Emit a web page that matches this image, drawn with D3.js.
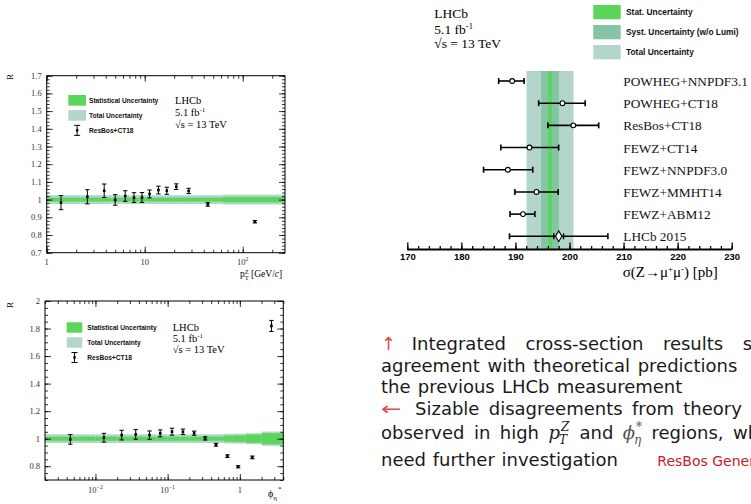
<!DOCTYPE html>
<html>
<head>
<meta charset="utf-8">
<script src="https://cdn.jsdelivr.net/npm/d3@7"></script>
<style>
  body { margin: 0; background: #fff; }
  svg { display: block; }
</style>
</head>
<body>
<svg id="slide" width="751" height="504"></svg>
<script>
// ---------- data: ratio to ResBos+CT18 vs pT(Z) ----------
const ptBinEdges = [1, 2.2, 3.4, 4.6, 5.8, 7.2, 8.7, 10.5, 12.8, 15.4, 19, 24.5, 34, 63, 270];
const ptStatErr  = [0.011, 0.011, 0.011, 0.011, 0.011, 0.011, 0.011, 0.011, 0.011, 0.011, 0.011, 0.011, 0.011, 0.015];
const ptTotalErr = [0.025, 0.025, 0.025, 0.025, 0.025, 0.025, 0.025, 0.025, 0.025, 0.025, 0.025, 0.025, 0.025, 0.028];
const ptPoints   = [1.40, 2.6, 3.86, 5.0, 6.33, 7.77, 9.38, 11.2, 13.8, 16.8, 21.0, 28.1, 44, 133];
const ptRatio    = [0.983, 1.016, 1.050, 0.998, 1.020, 1.011, 1.012, 1.032, 1.054, 1.050, 1.073, 1.049, 0.973, 0.875];
const ptRatioErr = [0.040, 0.040, 0.038, 0.030, 0.030, 0.028, 0.028, 0.022, 0.022, 0.020, 0.016, 0.015, 0.010, 0.007];
const ptYTicks   = [0.7, 0.8, 0.9, 1.0, 1.1, 1.2, 1.3, 1.4, 1.5, 1.6, 1.7];
const ptXTicks   = [1, 10, 100];
const ptXLabels  = ["1", "10", "10^2"];

// ---------- data: ratio to ResBos+CT18 vs phi*_eta ----------
const phiBinEdges = [0.002, 0.01, 0.02, 0.03, 0.05, 0.07, 0.1, 0.15, 0.2, 0.3, 0.4, 0.6, 0.8, 1.2, 2, 4];
const phiStatErr  = [0.015, 0.015, 0.015, 0.015, 0.015, 0.015, 0.015, 0.015, 0.015, 0.015, 0.015, 0.022, 0.024, 0.030, 0.040];
const phiTotalErr = [0.032, 0.032, 0.032, 0.032, 0.032, 0.032, 0.032, 0.032, 0.032, 0.032, 0.032, 0.035, 0.036, 0.040, 0.052];
const phiPoints   = [0.00448, 0.0131, 0.0231, 0.0361, 0.0561, 0.0789, 0.1148, 0.163, 0.233, 0.331, 0.467, 0.673, 0.948, 1.49, 2.74];
const phiRatio    = [0.995, 1.007, 1.026, 1.031, 1.026, 1.039, 1.051, 1.050, 1.040, 1.002, 0.956, 0.873, 0.796, 0.864, 1.819];
const phiRatioErr = [0.035, 0.032, 0.035, 0.035, 0.030, 0.025, 0.025, 0.020, 0.015, 0.012, 0.010, 0.010, 0.008, 0.010, 0.040];
const phiYTicks   = [0.8, 1.0, 1.2, 1.4, 1.6, 1.8, 2.0];
const phiXTicks   = [0.01, 0.1, 1];
const phiXLabels  = ["10^-2", "10^-1", "1"];

// ---------- data: integrated cross-section sigma(Z->mumu) [pb] ----------
const models      = ["POWHEG+NNPDF3.1", "POWHEG+CT18", "ResBos+CT18", "FEWZ+CT14",
                     "FEWZ+NNPDF3.0", "FEWZ+MMHT14", "FEWZ+ABM12", "LHCb 2015"];
const modelValue  = [189.4, 198.7, 200.7, 192.6, 188.6, 193.9, 191.4, 198.0];
const modelLow    = [186.9, 194.3, 196.0, 187.3, 184.1, 189.9, 189.0, 188.9];
const modelHigh   = [191.6, 202.9, 205.4, 198.0, 193.2, 197.9, 193.6, 207.1];
const lhcb2015Stat = [197.1, 198.9];
const sigmaCentral = 196.4;
const sigmaStatErr = 0.35;
const sigmaSystErr = 1.65;
const sigmaTotalErr = 4.35;
const sigmaTicks   = [170, 180, 190, 200, 210, 220, 230];

const STAT_COL  = "#5bd65b";
const SYST_COL  = "#86c4a6";
const TOTAL_COL = "#b3d5ca";

const svg = d3.select("#slide");
svg.append("rect").attr("width", 751).attr("height", 504).attr("fill", "#fff");

const SERIF = "'Liberation Serif', 'DejaVu Serif', serif";
const SANS  = "'Liberation Sans', Arial, sans-serif";

// writes "10^2" style labels with a raised exponent
function powLabel(sel, s, size) {
  const parts = s.split("^");
  sel.text(null);
  sel.append("tspan").text(parts[0]);
  if (parts.length > 1) {
    sel.append("tspan").attr("dy", -size * 0.45).attr("font-size", size * 0.7).text(parts[1].replace("-", "\u2212"));
  }
}

function logMinor(domain) {
  const out = [];
  const lo = Math.floor(Math.log10(domain[0])), hi = Math.ceil(Math.log10(domain[1]));
  for (let e = lo; e <= hi; e++) {
    for (let k = 1; k <= 9; k++) {
      const v = k * Math.pow(10, e);
      if (v >= domain[0] * 0.9999 && v <= domain[1] * 1.0001) out.push(+v.toPrecision(6));
    }
  }
  return out;
}

function ratioPanel(cfg) {
  const g = svg.append("g");
  const x = d3.scaleLog().domain(cfg.xDomain).range([cfg.left, cfg.right]);
  const y = d3.scaleLinear().domain(cfg.yDomain).range([cfg.bottom, cfg.top]);

  const bins = d3.range(cfg.edges.length - 1).map(i => ({
    x0: cfg.edges[i], x1: cfg.edges[i + 1], s: cfg.stat[i], t: cfg.total[i]
  }));
  g.selectAll("rect.tot").data(bins).join("rect")
    .attr("x", d => x(d.x0)).attr("width", d => x(d.x1) - x(d.x0))
    .attr("y", d => y(1 + d.t)).attr("height", d => y(1 - d.t) - y(1 + d.t))
    .attr("fill", TOTAL_COL);
  g.selectAll("rect.stat").data(bins).join("rect")
    .attr("x", d => x(d.x0)).attr("width", d => x(d.x1) - x(d.x0))
    .attr("y", d => y(1 + d.s)).attr("height", d => y(1 - d.s) - y(1 + d.s))
    .attr("fill", STAT_COL);

  // ticks on all four sides, pointing inwards
  const minorX = logMinor(cfg.xDomain);
  const minorY = d3.range(cfg.yDomain[0], cfg.yDomain[1] + 1e-9, cfg.yMinorStep);
  const majorX = cfg.xTicks;
  [d3.axisBottom(x), d3.axisTop(x)].forEach((ax, i) => {
    const tr = "translate(0," + (i === 0 ? cfg.bottom : cfg.top) + ")";
    g.append("g").attr("transform", tr)
      .call(ax.tickValues(minorX).tickSize(-3).tickFormat(""))
      .call(s => s.select(".domain").remove());
    g.append("g").attr("transform", tr)
      .call(ax.tickValues(majorX).tickSize(-6).tickFormat(""))
      .call(s => s.select(".domain").remove());
  });
  [[d3.axisLeft(y), cfg.left], [d3.axisRight(y), cfg.right]].forEach(([ax, px]) => {
    const tr = "translate(" + px + ",0)";
    g.append("g").attr("transform", tr)
      .call(ax.tickValues(minorY).tickSize(-3).tickFormat(""))
      .call(s => s.select(".domain").remove());
    g.append("g").attr("transform", tr)
      .call(ax.tickValues(cfg.yTicks).tickSize(-6).tickFormat(""))
      .call(s => s.select(".domain").remove());
  });
  g.selectAll(".tick line").attr("stroke", "#000").attr("stroke-width", 0.8);

  g.append("rect").attr("x", cfg.left).attr("y", cfg.top)
    .attr("width", cfg.right - cfg.left).attr("height", cfg.bottom - cfg.top)
    .attr("fill", "none").attr("stroke", "#000").attr("stroke-width", 1);

  // tick labels
  g.selectAll("text.yl").data(cfg.yTicks).join("text")
    .attr("x", cfg.left - 5).attr("y", d => y(d) + 3)
    .attr("text-anchor", "end").attr("font-family", SERIF).attr("font-size", 8.5).attr("fill", "#333")
    .text(d => d3.format("~g")(d));
  g.selectAll("text.xl").data(majorX).join("text")
    .attr("x", d => x(d)).attr("y", cfg.bottom + 12.5)
    .attr("text-anchor", "middle").attr("font-family", SERIF).attr("font-size", 8.5).attr("fill", "#333")
    .each(function (d, i) { powLabel(d3.select(this), cfg.xLabels[i], 8.5); });

  // data points with error bars
  const pts = cfg.px.map((v, i) => ({ x: v, y: cfg.py[i], e: cfg.pe[i] }));
  const pg = g.selectAll("g.pt").data(pts).join("g");
  pg.append("line").attr("x1", d => x(d.x)).attr("x2", d => x(d.x))
    .attr("y1", d => y(d.y - d.e)).attr("y2", d => y(d.y + d.e)).attr("stroke", "#000").attr("stroke-width", 1);
  [-1, 1].forEach(sgn => {
    pg.append("line").attr("x1", d => x(d.x) - 2.2).attr("x2", d => x(d.x) + 2.2)
      .attr("y1", d => y(d.y + sgn * d.e)).attr("y2", d => y(d.y + sgn * d.e))
      .attr("stroke", "#000").attr("stroke-width", 1);
  });
  pg.append("rect").attr("x", d => x(d.x) - 1.3).attr("y", d => y(d.y) - 1.3)
    .attr("width", 2.6).attr("height", 2.6).attr("fill", "#000");

  // legend
  const L = cfg.legend;
  g.append("rect").attr("x", L.x).attr("y", L.y).attr("width", L.w).attr("height", L.h).attr("fill", STAT_COL);
  g.append("rect").attr("x", L.x).attr("y", L.y + L.dy).attr("width", L.w).attr("height", L.h).attr("fill", TOTAL_COL);
  const ex = L.x + L.w / 2, ey = L.y + 2 * L.dy + L.h / 2;
  g.append("line").attr("x1", ex).attr("x2", ex).attr("y1", ey - 5).attr("y2", ey + 5).attr("stroke", "#000");
  g.append("line").attr("x1", ex - 3).attr("x2", ex + 3).attr("y1", ey - 5).attr("y2", ey - 5).attr("stroke", "#000");
  g.append("line").attr("x1", ex - 3).attr("x2", ex + 3).attr("y1", ey + 5).attr("y2", ey + 5).attr("stroke", "#000");
  g.append("rect").attr("x", ex - 1.2).attr("y", ey - 1.2).attr("width", 2.4).attr("height", 2.4).attr("fill", "#000");
  ["Statistical Uncertainty", "Total Uncertainty", "ResBos+CT18"].forEach((t, i) => {
    g.append("text").attr("x", L.tx).attr("y", L.y + i * L.dy + L.h / 2 + 2.3)
      .attr("font-family", SANS).attr("font-weight", "bold").attr("font-size", 6.6).attr("fill", "#111").text(t);
  });

  // experiment label
  const T = cfg.tag;
  g.append("text").attr("x", T.x).attr("y", T.y[0]).attr("font-family", SERIF).attr("font-size", 10.5).text("LHCb");
  const l2 = g.append("text").attr("x", T.x).attr("y", T.y[1]).attr("font-family", SERIF).attr("font-size", 10.5);
  l2.append("tspan").text("5.1 fb");
  l2.append("tspan").attr("dy", -4).attr("font-size", 7).text("-1");
  g.append("text").attr("x", T.x).attr("y", T.y[2]).attr("font-family", SERIF).attr("font-size", 10.5).text("\u221As = 13 TeV");

  // y title
  g.append("text").attr("transform", "translate(13," + cfg.yTitleY + ") rotate(-90)")
    .attr("text-anchor", "middle").attr("font-family", SERIF).attr("font-size", 9).text("R");
  return { g, x, y };
}

// ---- pT(Z) panel ----
const pA = ratioPanel({
  left: 46.7, right: 285, top: 75.7, bottom: 252.7,
  xDomain: [1, 270], yDomain: [0.7, 1.7], yMinorStep: 0.02,
  edges: ptBinEdges, stat: ptStatErr, total: ptTotalErr,
  px: ptPoints, py: ptRatio, pe: ptRatioErr,
  yTicks: ptYTicks, xTicks: ptXTicks, xLabels: ptXLabels,
  legend: { x: 68.3, y: 95, w: 17.7, h: 10.7, dy: 15, tx: 89 },
  tag: { x: 175, y: [104.3, 116, 127.7] },
  yTitleY: 77
});
{
  const t = pA.g.append("text").attr("x", 240).attr("y", 277).attr("font-family", SERIF).attr("font-size", 9.5);
  t.append("tspan").text("p");
  t.append("tspan").attr("dy", -3.5).attr("font-size", 6.5).text("Z");
  t.append("tspan").attr("dx", -4).attr("dy", 6.5).attr("font-size", 6.5).text("T");
  t.append("tspan").attr("dy", -3).text(" [GeV/");
  t.append("tspan").attr("font-style", "italic").text("c");
  t.append("tspan").text("]");
}

// ---- phi*_eta panel ----
const pB = ratioPanel({
  left: 45, right: 283.3, top: 301, bottom: 480,
  xDomain: [0.002, 4], yDomain: [0.7, 2.0], yMinorStep: 0.05,
  edges: phiBinEdges, stat: phiStatErr, total: phiTotalErr,
  px: phiPoints, py: phiRatio, pe: phiRatioErr,
  yTicks: phiYTicks, xTicks: phiXTicks, xLabels: phiXLabels,
  legend: { x: 66.7, y: 322.3, w: 15.6, h: 10.4, dy: 15, tx: 87.3 },
  tag: { x: 172.7, y: [330.7, 341.7, 353.3] },
  yTitleY: 305
});
{
  const t = pB.g.append("text").attr("x", 268).attr("y", 497).attr("font-family", SERIF).attr("font-size", 10);
  t.append("tspan").text("\u03D5");
  t.append("tspan").attr("dy", 3).attr("font-size", 7).text("\u03B7");
  t.append("tspan").attr("dx", 1).attr("dy", -9).attr("font-size", 7).text("*");
}

// ---- integrated cross-section comparison ----
{
  const g = svg.append("g");
  const x = d3.scaleLinear().domain([170, 230]).range([407.3, 731.7]);
  const y = d3.scalePoint().domain(models).range([81, 236.3]);
  const axisY = 249.5, bandTop = 71;

  [[sigmaTotalErr, TOTAL_COL], [sigmaSystErr, SYST_COL], [sigmaStatErr, STAT_COL]].forEach(([e, c]) => {
    g.append("rect").attr("x", x(sigmaCentral - e)).attr("width", x(sigmaCentral + e) - x(sigmaCentral - e))
      .attr("y", bandTop).attr("height", axisY - bandTop).attr("fill", c);
  });

  // axis with upward ticks
  g.append("g").attr("transform", "translate(0," + axisY + ")")
    .call(d3.axisBottom(x).tickValues(d3.range(170, 230.1, 2)).tickSize(-3.5).tickFormat(""))
    .call(s => s.select(".domain").remove());
  const ax = g.append("g").attr("transform", "translate(0," + axisY + ")")
    .call(d3.axisBottom(x).tickValues(sigmaTicks).tickSize(-7).tickPadding(4).tickFormat(d3.format("d")));
  ax.select(".domain").remove();
  ax.selectAll("text").attr("font-family", SANS).attr("font-weight", "bold").attr("font-size", 9.5).attr("fill", "#000");
  g.selectAll(".tick line").attr("stroke", "#000").attr("stroke-width", 1.3);
  g.append("line").attr("x1", x(170)).attr("x2", x(230)).attr("y1", axisY).attr("y2", axisY)
    .attr("stroke", "#000").attr("stroke-width", 1.8);

  // predictions and previous measurement
  const rows = models.map((m, i) => ({ m, v: modelValue[i], lo: modelLow[i], hi: modelHigh[i] }));
  const rg = g.selectAll("g.row").data(rows).join("g");
  rg.append("line").attr("x1", d => x(d.lo)).attr("x2", d => x(d.hi)).attr("y1", d => y(d.m)).attr("y2", d => y(d.m))
    .attr("stroke", "#000").attr("stroke-width", 1.6);
  rg.append("line").attr("x1", d => x(d.lo)).attr("x2", d => x(d.lo)).attr("y1", d => y(d.m) - 3).attr("y2", d => y(d.m) + 3)
    .attr("stroke", "#000").attr("stroke-width", 1.6);
  rg.append("line").attr("x1", d => x(d.hi)).attr("x2", d => x(d.hi)).attr("y1", d => y(d.m) - 3).attr("y2", d => y(d.m) + 3)
    .attr("stroke", "#000").attr("stroke-width", 1.6);
  const last = models[models.length - 1];
  lhcb2015Stat.forEach(v => {
    g.append("line").attr("x1", x(v)).attr("x2", x(v)).attr("y1", y(last) - 3).attr("y2", y(last) + 3)
      .attr("stroke", "#000").attr("stroke-width", 1.4);
  });
  rg.filter(d => d.m !== last).append("circle").attr("cx", d => x(d.v)).attr("cy", d => y(d.m)).attr("r", 2.4)
    .attr("fill", "#fff").attr("stroke", "#000").attr("stroke-width", 1.1);
  rg.filter(d => d.m === last).append("path")
    .attr("d", d3.symbol(d3.symbolDiamond, 34))
    .attr("transform", d => "translate(" + x(d.v) + "," + y(d.m) + ")")
    .attr("fill", "#fff").attr("stroke", "#000").attr("stroke-width", 1.1);
  rg.append("text").attr("x", 623.3).attr("y", d => y(d.m) + 5)
    .attr("font-family", SERIF).attr("font-size", 13.3).attr("fill", "#111").text(d => d.m);

  // axis title
  const t = g.append("text").attr("x", 622.7).attr("y", 277).attr("font-family", SERIF).attr("font-size", 15);
  t.append("tspan").text("\u03C3(Z\u2192\u03BC");
  t.append("tspan").attr("dy", -5).attr("font-size", 9).text("+");
  t.append("tspan").attr("dy", 5).text("\u03BC");
  t.append("tspan").attr("dy", -5).attr("font-size", 9).text("-");
  t.append("tspan").attr("dy", 5).text(") [pb]");

  // legend
  [["Stat. Uncertainty", STAT_COL], ["Syst. Uncertainty (w/o Lumi)", SYST_COL], ["Total Uncertainty", TOTAL_COL]]
    .forEach(([lab, c], i) => {
      g.append("rect").attr("x", 593.3).attr("y", 5 + 20 * i).attr("width", 27.4).attr("height", 14.3).attr("fill", c);
      g.append("text").attr("x", 626).attr("y", 15.3 + 20 * i).attr("font-family", SANS).attr("font-weight", "bold")
        .attr("font-size", 8.4).attr("fill", "#111").text(lab);
    });

  // experiment label
  g.append("text").attr("x", 434.3).attr("y", 18.3).attr("font-family", SERIF).attr("font-size", 13.5).text("LHCb");
  const l2 = g.append("text").attr("x", 434.3).attr("y", 34.3).attr("font-family", SERIF).attr("font-size", 13.5);
  l2.append("tspan").text("5.1 fb");
  l2.append("tspan").attr("dy", -5).attr("font-size", 8.5).text("-1");
  g.append("text").attr("x", 434.3).attr("y", 48.3).attr("font-family", SERIF).attr("font-size", 13.5).text("\u221As = 13 TeV");
}

// ---------- commentary text ----------
{
  const FS = 18;
  const g = svg.append("g").attr("font-family", "'DejaVu Sans', sans-serif").attr("font-size", FS).attr("fill", "#1a1a1a");
  const RED = "#e04848";
  const MATH = "'DejaVu Serif', serif";

  // plain word
  const W = (s, col) => p => p.append("text").attr("fill", col || null).text(s);
  // symbol with superscript and subscript
  const SS = (base, sup, sub, col) => p => {
    const t = p.append("text").attr("font-family", MATH).attr("font-style", "italic").attr("fill", col || null).text(base);
    const w = t.node().getComputedTextLength();
    p.append("text").attr("x", w + 1).attr("y", -8).attr("font-family", MATH).attr("font-style", "italic")
      .attr("font-size", 12).attr("fill", col || null).text(sup);
    p.append("text").attr("x", w - 1).attr("y", 5).attr("font-family", MATH).attr("font-style", "italic")
      .attr("font-size", 12).attr("fill", col || null).text(sub);
  };

  // justified line: first item starts at x0, last item starts at x1, equal gaps between
  function justified(y, x0, x1, items) {
    const gs = items.map(b => { const gg = g.append("g"); b(gg); return gg; });
    const widths = gs.map(gg => gg.node().getBBox().width);
    const gap = (x1 - x0 - d3.sum(widths.slice(0, -1))) / (items.length - 1);
    let x = x0;
    gs.forEach((gg, i) => { gg.attr("transform", "translate(" + x + "," + y + ")"); x += widths[i] + gap; });
  }

  g.append("text").attr("x", 381).attr("y", 350).attr("fill", RED).text("\u2191");
  justified(350, 411.7, 742.7, [W("Integrated"), W("cross-section"), W("results"), W("show")]);

  g.append("text").attr("x", 381).attr("y", 371.7).attr("word-spacing", 2).text("agreement with theoretical predictions");
  g.append("text").attr("x", 381).attr("y", 392.7).attr("word-spacing", 1.5).text("the previous LHCb measurement");

  g.append("text").attr("transform", "translate(381,415) scale(1.35,1)").attr("fill", RED).text("\u2190");
  justified(415, 415, 683.3, [W("Sizable"), W("disagreements"), W("from"), W("theory")]);

  justified(439, 381, 733, [W("observed"), W("in"), W("high"), SS("p", "Z", "T"), W("and"),
    SS("\u03D5", "*", "\u03B7", "#555"), W("regions,"), W("which")]);

  g.append("text").attr("x", 381).attr("y", 465.7).attr("word-spacing", 1).text("need further investigation");
  g.append("text").attr("x", 657.3).attr("y", 465.7).attr("font-size", 14).attr("fill", "#c8202a").text("ResBos Generator");
}
</script>
</body>
</html>
